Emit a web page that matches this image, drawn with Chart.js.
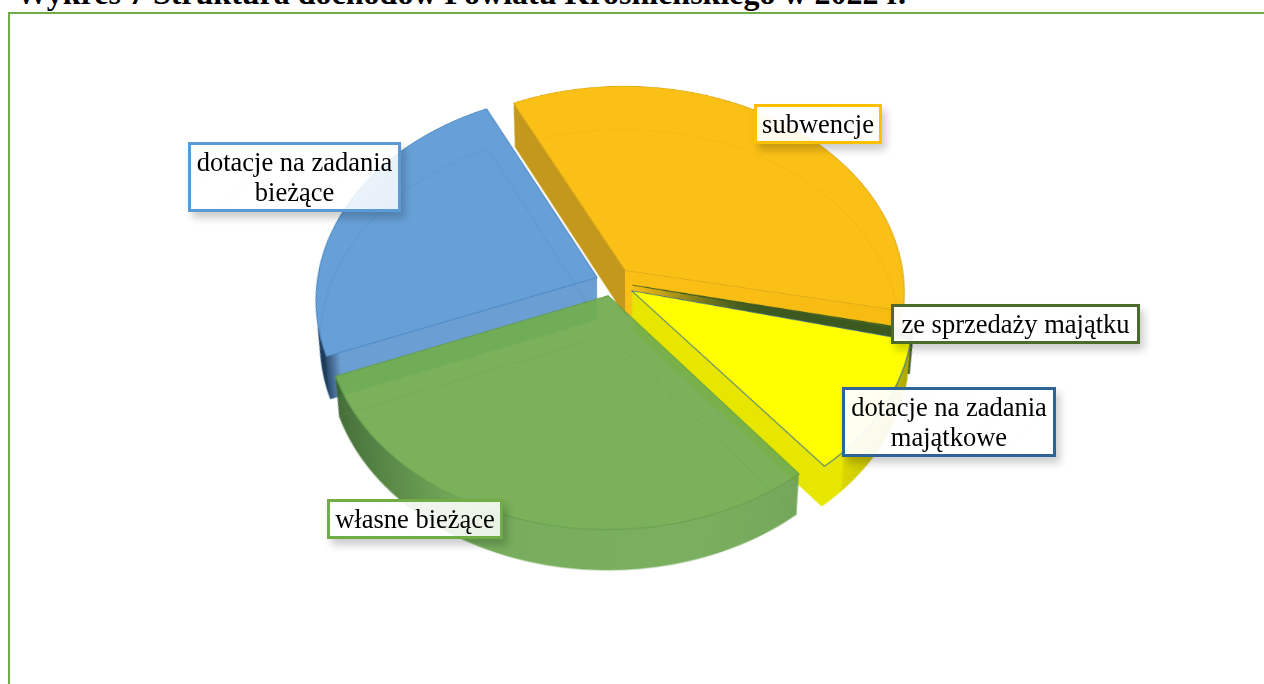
<!DOCTYPE html>
<html lang="pl">
<head>
<meta charset="utf-8">
<title>Wykres 7</title>
<script src="https://cdn.jsdelivr.net/npm/chart.js@4"></script>
<style>
	html, body { margin: 0; width: 1264px; height: 684px; overflow: hidden; background: #fff; }
	#title { position: absolute; left: 16px; top: -25px; font: bold 32px "Liberation Serif", serif; color: #000; white-space: nowrap; }
	#frame { position: absolute; left: 8px; top: 12px; width: 1300px; height: 720px; border: 2px solid #70ad47; }
	#pie { position: absolute; left: 213px; top: -118px; width: 800px; height: 800px;
		transform: perspective(1800px) rotateX(42.5deg); transform-origin: 50% 50%; }
	.box { position: absolute; box-sizing: border-box; display: flex; align-items: center; justify-content: center; text-align: center;
		font: 26.5px/30px "Liberation Serif", serif; color: #000; border: 3px solid;
		background: linear-gradient(135deg, rgba(255,255,255,.96), rgba(255,255,255,.84));
		box-shadow: 4px 6px 8px rgba(0,0,0,.2); }
</style>
</head>
<body>
<div id="title">Wykres 7 Struktura dochodów Powiatu Krośnieńskiego w 2022 r.</div>
<div id="frame"></div>
<canvas id="pie" width="800" height="800"></canvas>
<script>
const categories = ['subwencje', 'ze sprzedaży majątku', 'dotacje na zadania majątkowe', 'własne bieżące', 'dotacje na zadania bieżące'];
const shares = [35.4, 0.5, 10.6, 29.7, 23.8];

const sliceColors = ['#fbc015', '#4a6b28', '#ffff00', '#72ad50', '#5f9bd5'];
const edgeColors = ['#d9a81c', '#3c5a20', '#3e7090', '#5f9a45', '#3f80c0'];
const sliceOffsets = [80, 80, 88, 76, 68];
const sliceAlpha = [1, 1, 1, 0.94, 0.95];
const drawOrder = [0, 4, 1, 2, 3];
const pieRadius = 280;
// Chart.js widens an offset arc a little, taken back per slice
const radiusTrim = [5, 19, 10, 1, 0];
const wallDepths = [60, 56, 52, 52, 56];
const showBottomLine = [true, false, false, true, true];
const depthShrink = 0.0006;
// side wall shading, left to right across the canvas
const wallStops = [
	[[0, '#c4981c'], [0.5, '#c4981c'], [0.5, '#fbc015'], [1, '#f5b90f']],
	[[0, '#3c5a20'], [1, '#3c5a20']],
	[[0, '#e6e600'], [0.743, '#e6e600'], [0.743, '#dcd800'], [0.85, '#a8a400'], [0.9, '#4a4a00'], [1, '#4a4a00']],
	[[0, '#35602a'], [0.16, '#35602a'], [0.34, '#6fa852'], [0.6, '#72ab55'], [0.8, '#689c4e'], [1, '#689c4e']],
	[[0, '#12304f'], [0.17, '#12304f'], [0.19, '#6499d0'], [1, '#6499d0']]
];

const labelBoxes = [
	{ left: 754, top: 104, width: 128, height: 40, color: '#ffc000' },
	{ left: 891, top: 304, width: 249, height: 40, color: '#4a6b2c' },
	{ left: 842, top: 387, width: 214, height: 70, color: '#2f6496' },
	{ left: 327, top: 499, width: 176, height: 40, color: '#70ad47' },
	{ left: 188, top: 142, width: 213, height: 70, color: '#5b9bd5' }
];

const extrude = {
	id: 'extrude',
	beforeDatasetsDraw(chart) {
		const ctx = chart.ctx;
		const dpr = chart.currentDevicePixelRatio;
		const arcs = chart.getDatasetMeta(0).data;
		const cx = chart.width / 2;
		const cy = chart.height / 2;
		// one step down the wall, shrunk toward the centre for depth
		const stepDown = function(lc, d) {
			const f = 1 - d * depthShrink;
			lc.translate(cx, cy + d);
			lc.scale(f, f);
			lc.translate(-cx, -cy);
		};
		drawOrder.forEach(function(i) {
			const layer = document.createElement('canvas');
			layer.width = chart.canvas.width;
			layer.height = chart.canvas.height;
			const lc = layer.getContext('2d');
			lc.scale(dpr, dpr);
			const arc = arcs[i];
			const base = arc.options;
			arc.outerRadius = pieRadius - radiusTrim[i];

			const wall = lc.createLinearGradient(0, 0, chart.width, 0);
			wallStops[i].forEach(s => wall.addColorStop(s[0], s[1]));
			arc.options = Object.assign({}, base, { backgroundColor: wall, borderWidth: 0 });
			for (let d = wallDepths[i]; d > 0; d--) {
				lc.save();
				stepDown(lc, d);
				arc.draw(lc);
				lc.restore();
			}

			arc.options = base;
			arc.draw(lc);

			// bottom outline shows through the top
			if (showBottomLine[i]) {
				arc.options = Object.assign({}, base, { backgroundColor: 'rgba(0,0,0,0)', borderColor: edgeColors[i] + '48', borderWidth: 1 });
				lc.save();
				stepDown(lc, wallDepths[i]);
				arc.draw(lc);
				lc.restore();
				arc.options = base;
			}

			ctx.save();
			ctx.setTransform(1, 0, 0, 1, 0, 0);
			ctx.globalAlpha = sliceAlpha[i];
			ctx.drawImage(layer, 0, 0);
			ctx.restore();
		});
		return false;
	}
};

new Chart(document.getElementById('pie').getContext('2d'), {
	type: 'pie',
	data: {
		labels: categories,
		datasets: [{
			data: shares,
			backgroundColor: sliceColors,
			borderColor: edgeColors,
			borderWidth: 1,
			offset: sliceOffsets,
			radius: pieRadius
		}]
	},
	options: {
		responsive: false,
		devicePixelRatio: 2,
		animation: false,
		rotation: -26,
		plugins: { legend: { display: false }, tooltip: { enabled: false } }
	},
	plugins: [extrude]
});

categories.forEach(function(name, i) {
	const b = labelBoxes[i];
	const el = document.createElement('div');
	el.className = 'box';
	el.textContent = name;
	el.style.left = b.left + 'px';
	el.style.top = b.top + 'px';
	el.style.width = b.width + 'px';
	el.style.height = b.height + 'px';
	el.style.borderColor = b.color;
	document.body.appendChild(el);
});
</script>
</body>
</html>
